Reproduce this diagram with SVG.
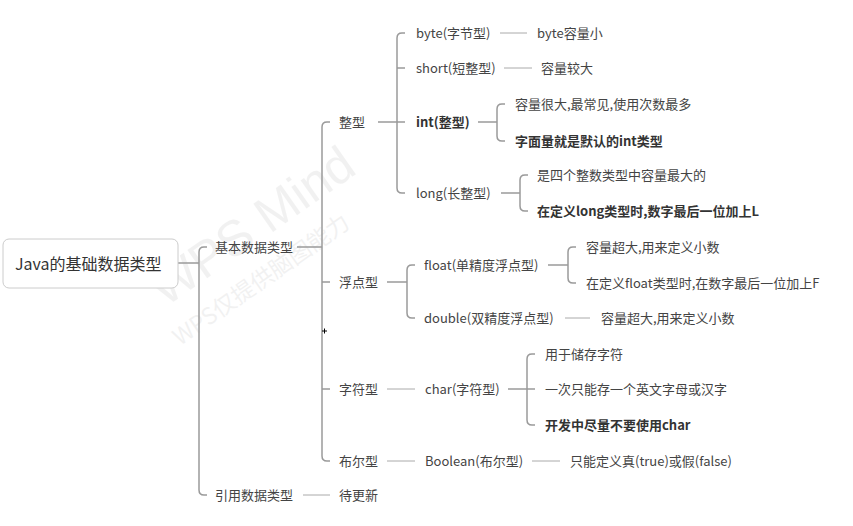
<svg xmlns="http://www.w3.org/2000/svg" width="853" height="526" viewBox="0 0 853 526">
<style>
text{font-family:"Noto Sans CJK SC","Noto Sans",sans-serif;font-size:13px;fill:#444;dominant-baseline:central}
.b{font-weight:bold;fill:#333}
.root{font-size:16px;fill:#333}
.c path{fill:none;stroke:#9a9a9a;stroke-width:1.5}
.c path.s{stroke:#aaa;stroke-width:1}
.wm{fill:#000;opacity:0.065}
</style>
<rect width="853" height="526" fill="#fff"/>
<g class="wm">
<text x="252" y="226" transform="rotate(-35 252 226)" text-anchor="middle" style="font-size:50px;font-family:'Liberation Sans',sans-serif">WPS Mind</text>
<text x="260" y="278" transform="rotate(-35 260 278)" text-anchor="middle" style="font-size:23px">WPS仅提供脑图能力</text>
</g>
<g class="c" id="connectors">
<path d="M178,263 H199"/>
<path d="M207,247 H204 Q199,247 199,252 V490 Q199,495 204,495 H207"/>
<path d="M297,247 H322"/>
<path d="M330,122 H327 Q322,122 322,127 V456 Q322,461 327,461 H330 M322,282 H330 M322,389 H330"/>
<path d="M378,122 H397"/>
<path d="M405,33 H402 Q397,33 397,38 V188 Q397,193 402,193 H405 M397,68 H405 M397,122 H405"/>
<path class="s" d="M500,33 H527"/>
<path class="s" d="M504,68 H532"/>
<path d="M478,122 H497"/>
<path d="M505,104 H502 Q497,104 497,109 V136 Q497,141 502,141 H505"/>
<path d="M501,193 H520"/>
<path d="M528,175 H525 Q520,175 520,180 V206 Q520,211 525,211 H528"/>
<path d="M387,282 H407"/>
<path d="M415,265 H412 Q407,265 407,270 V313 Q407,318 412,318 H415"/>
<path d="M548,265 H568"/>
<path d="M576,247 H573 Q568,247 568,252 V278 Q568,283 573,283 H576"/>
<path class="s" d="M565,318 H590"/>
<path class="s" d="M387,389 H415"/>
<path d="M508,389 H527"/>
<path d="M535,354 H532 Q527,354 527,359 V420 Q527,425 532,425 H535 M527,389 H535"/>
<path class="s" d="M387,461 H415"/>
<path class="s" d="M532,461 H560"/>
<path class="s" d="M303,495 H330"/>
<path d="M322,331 h5 M324.5,328.5 v5" style="stroke:#000;stroke-width:1"/>
</g>
<g id="root"><rect x="3" y="239" width="175" height="49" rx="6" fill="#fff" stroke="#ccc" stroke-width="1"/><text class="root" x="15" y="263">Java的基础数据类型</text></g>
<g transform="translate(0,-1)">
<g id="basic"><text x="215" y="247">基本数据类型</text></g>
<g id="ref"><text x="215" y="495">引用数据类型</text></g>
<g id="ref-todo"><text x="339" y="495">待更新</text></g>
<g id="int-type"><text x="339" y="122">整型</text></g>
<g id="float-type"><text x="339" y="282">浮点型</text></g>
<g id="char-type"><text x="339" y="389">字符型</text></g>
<g id="bool-type"><text x="339" y="461">布尔型</text></g>
<g id="byte"><text x="416" y="33">byte(字节型)</text></g>
<g id="byte-d"><text x="537" y="33">byte容量小</text></g>
<g id="short"><text x="416" y="68">short(短整型)</text></g>
<g id="short-d"><text x="541" y="68">容量较大</text></g>
<g id="int"><text class="b" x="416" y="122">int(整型)</text></g>
<g id="int-d1"><text x="515" y="104">容量很大,最常见,使用次数最多</text></g>
<g id="int-d2"><text class="b" x="515" y="141">字面量就是默认的int类型</text></g>
<g id="long"><text x="416" y="193">long(长整型)</text></g>
<g id="long-d1"><text x="537" y="175">是四个整数类型中容量最大的</text></g>
<g id="long-d2"><text class="b" x="537" y="211">在定义long类型时,数字最后一位加上L</text></g>
<g id="float"><text x="424" y="265">float(单精度浮点型)</text></g>
<g id="float-d1"><text x="586" y="247">容量超大,用来定义小数</text></g>
<g id="float-d2"><text x="586" y="283">在定义float类型时,在数字最后一位加上F</text></g>
<g id="double"><text x="424" y="318">double(双精度浮点型)</text></g>
<g id="double-d"><text x="601" y="318">容量超大,用来定义小数</text></g>
<g id="char"><text x="425" y="389">char(字符型)</text></g>
<g id="char-d1"><text x="545" y="354">用于储存字符</text></g>
<g id="char-d2"><text x="545" y="389">一次只能存一个英文字母或汉字</text></g>
<g id="char-d3"><text class="b" x="545" y="425">开发中尽量不要使用char</text></g>
<g id="boolean"><text x="425" y="461">Boolean(布尔型)</text></g>
<g id="boolean-d"><text x="570" y="461">只能定义真(true)或假(false)</text></g>
</g>
</svg>
